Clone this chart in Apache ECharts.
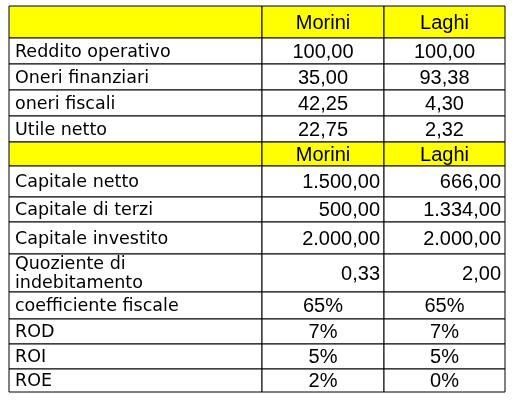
<!DOCTYPE html>
<html><head><meta charset="utf-8">
<script src="https://cdn.jsdelivr.net/npm/echarts@6/dist/echarts.min.js"></script>
<style>html,body{margin:0;padding:0;background:#fff}#c{width:520px;height:401px}</style>
</head><body><div id="c"></div>
<script>
const headers = ['', 'Morini', 'Laghi'];
const rowLabels = ['Reddito operativo','Oneri finanziari','oneri fiscali','Utile netto',
  null,'Capitale netto','Capitale di terzi','Capitale investito','Quoziente di\nindebitamento',
  'coefficiente fiscale','ROD','ROI','ROE'];
const morini = ['100,00','35,00','42,25','22,75',null,'1.500,00','500,00','2.000,00','0,33','65%','7%','5%','2%'];
const laghi  = ['100,00','93,38','4,30','2,32',null,'666,00','1.334,00','2.000,00','2,00','65%','7%','5%','0%'];
const valueAlign = ['center','center','center','center',null,'right','right','right','right','center','center','center','center'];

// layout (pixels)
const colEdges = [9, 262, 384, 505];
const rowEdges = [6, 38, 64, 90, 116, 142, 166, 197, 222, 254, 292, 319, 344, 369, 392];

const cells = [];
for (let c = 0; c < 3; c++) cells.push({r:0, c, text: headers[c], fill:'#ffff00', align:'center', num:true});
rowLabels.forEach((lab, i) => {
  const r = i + 1;
  if (lab === null) {
    for (let c = 0; c < 3; c++) cells.push({r, c, text: headers[c], fill:'#ffff00', align:'center', num:true});
  } else {
    cells.push({r, c:0, text: lab, fill:'#fff', align:'left', num:false});
    cells.push({r, c:1, text: morini[i], fill:'#fff', align:valueAlign[i], num:true});
    cells.push({r, c:2, text: laghi[i], fill:'#fff', align:valueAlign[i], num:true});
  }
});

const chart = echarts.init(document.getElementById('c'));
chart.setOption({
  animation:false,
  grid:{left:0,right:0,top:0,bottom:0},
  xAxis:{type:'value',min:0,max:520,show:false},
  yAxis:{type:'value',min:0,max:401,inverse:true,show:false},
  series:[{
    type:'custom',
    data: cells.map((d,i)=>[d.c,d.r,i]),
    renderItem:(params, api)=>{
      const d = cells[api.value(2)];
      const p0 = api.coord([colEdges[d.c], rowEdges[d.r]]);
      const p1 = api.coord([colEdges[d.c+1], rowEdges[d.r+1]]);
      const w = p1[0]-p0[0], h = p1[1]-p0[1];
      let tx, ta;
      if (d.align==='left'){tx=p0[0]+6;ta='left';}
      else if (d.align==='right'){tx=p1[0]-4;ta='right';}
      else {tx=p0[0]+w/2;ta='center';}
      return {type:'group',children:[
        {type:'rect',shape:{x:p0[0],y:p0[1],width:w,height:h},
         style:{fill:d.fill,stroke:'#000',lineWidth:1}},
        {type:'text',style:{x:tx,y:p0[1]+h/2+1,text:d.text,align:ta,verticalAlign:'middle',
          fill:'#000',
          font: d.num ? '20px "Liberation Sans", Arial, sans-serif' : '17.5px "DejaVu Sans", Verdana, sans-serif',
          lineHeight:19}}
      ]};
    }
  }]
});
</script></body></html>
